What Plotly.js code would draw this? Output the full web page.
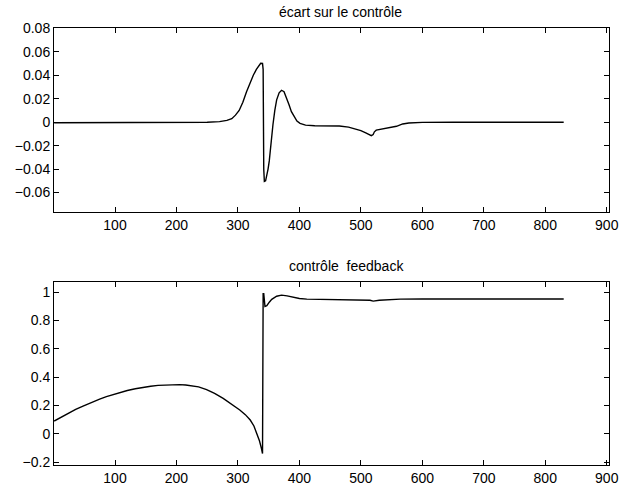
<!DOCTYPE html>
<html>
<head>
<meta charset="utf-8">
<script src="https://cdn.plot.ly/plotly-3.0.1.min.js"></script>
<style>html,body{margin:0;padding:0;background:#fff;}#chart{width:624px;height:488px;}</style>
</head>
<body>
<div id="chart"></div>
<script>
// Top panel: "écart sur le contrôle"
const ecartX = [1,100,200,250,270,282,290,296,302,308,314,320,325,330,334,337,340,341,342,343,345,347,349,351,354,357,360,363,367,371,375,379,383,387,391,396,401,410,425,450,465,480,490,500,508,514,517,520,522,525,532,545,558,568,578,600,650,830];
const ecartY = [-0.0005,-0.0004,-0.0002,0.0,0.0005,0.0015,0.003,0.006,0.010,0.017,0.026,0.034,0.040,0.045,0.048,0.0502,0.0500,0.045,-0.040,-0.0505,-0.050,-0.046,-0.040,-0.033,-0.016,-0.002,0.010,0.019,0.025,0.0272,0.026,0.021,0.015,0.009,0.005,0.001,-0.001,-0.0025,-0.003,-0.003,-0.0033,-0.0042,-0.0055,-0.0072,-0.0092,-0.011,-0.0115,-0.0105,-0.0082,-0.0068,-0.006,-0.0048,-0.0035,-0.0015,-0.0007,-0.0002,0,0];

// Bottom panel: "contrôle feedback"
const fbX = [1,13,25,36,48,61,75,86,97,108,120,133,146,158,170,185,195,205,215,225,236,249,262,276,290,303,312,320,326,331,335,338,340,341,342,344,347,351,355,363,371,380,390,400,412,440,466,490,515,520,530,564,600,830];
const fbY = [0.090,0.119,0.148,0.172,0.196,0.221,0.245,0.262,0.278,0.292,0.306,0.318,0.329,0.336,0.342,0.346,0.347,0.347,0.345,0.340,0.331,0.312,0.285,0.250,0.210,0.168,0.135,0.097,0.055,0.003,-0.05,-0.10,-0.14,0.99,0.99,0.90,0.905,0.93,0.95,0.972,0.98,0.975,0.963,0.956,0.952,0.950,0.950,0.948,0.944,0.938,0.944,0.952,0.953,0.953];

const xTicks = [100,200,300,400,500,600,700,800,900];
const ecartTicks = [-0.06,-0.04,-0.02,0,0.02,0.04,0.06,0.08];
const ecartTickText = ['\u22120.06','\u22120.04','\u22120.02','0','0.02','0.04','0.06','0.08'];
const fbTicks = [-0.2,0,0.2,0.4,0.6,0.8,1];
const fbTickText = ['\u22120.2','0','0.2','0.4','0.6','0.8','1'];

const titles = ['écart sur le contrôle', 'contrôle  feedback'];

const W = 624, H = 488;
const font = {family: 'Liberation Sans, Arial, Helvetica, sans-serif', size: 14, color: '#000'};

const axisCommon = {
  showgrid: false, zeroline: false, showline: true, linecolor: '#000', linewidth: 1,
  mirror: 'ticks', ticks: 'inside', ticklen: 5, tickcolor: '#000', tickwidth: 1,
  tickfont: font
};

const traces = [
  {x: ecartX, y: ecartY, xaxis: 'x', yaxis: 'y', mode: 'lines', line: {color: '#000', width: 1.4}, hoverinfo: 'skip'},
  {x: fbX, y: fbY, xaxis: 'x2', yaxis: 'y2', mode: 'lines', line: {color: '#000', width: 1.4}, hoverinfo: 'skip'}
];

const xd = [54/W, 609/W];
const layout = {
  width: W, height: H,
  margin: {l: 0, r: 0, t: 0, b: 0},
  paper_bgcolor: '#fff', plot_bgcolor: '#fff',
  showlegend: false,
  font: font,
  xaxis: Object.assign({}, axisCommon, {domain: xd, range: [0.75, 903.7], tickvals: xTicks, anchor: 'y'}),
  yaxis: Object.assign({}, axisCommon, {domain: [(H-212.3)/H, (H-28.3)/H], range: [-0.0768, 0.08], tickvals: ecartTicks, ticktext: ecartTickText, anchor: 'x'}),
  xaxis2: Object.assign({}, axisCommon, {domain: xd, range: [0.75, 903.7], tickvals: xTicks, anchor: 'y2'}),
  yaxis2: Object.assign({}, axisCommon, {domain: [(H-465)/H, (H-281.7)/H], range: [-0.221, 1.075], tickvals: fbTicks, ticktext: fbTickText, anchor: 'x2'}),
  annotations: [
    {text: titles[0], xref: 'paper', yref: 'paper', x: 341/W, y: (H-12)/H, xanchor: 'center', yanchor: 'middle', showarrow: false, font: {family: font.family, size: 14, color: '#000'}},
    {text: titles[1], xref: 'paper', yref: 'paper', x: 346/W, y: (H-266)/H, xanchor: 'center', yanchor: 'middle', showarrow: false, font: {family: font.family, size: 14, color: '#000'}}
  ]
};

Plotly.newPlot('chart', traces, layout, {staticPlot: true, displayModeBar: false});
</script>
</body>
</html>
